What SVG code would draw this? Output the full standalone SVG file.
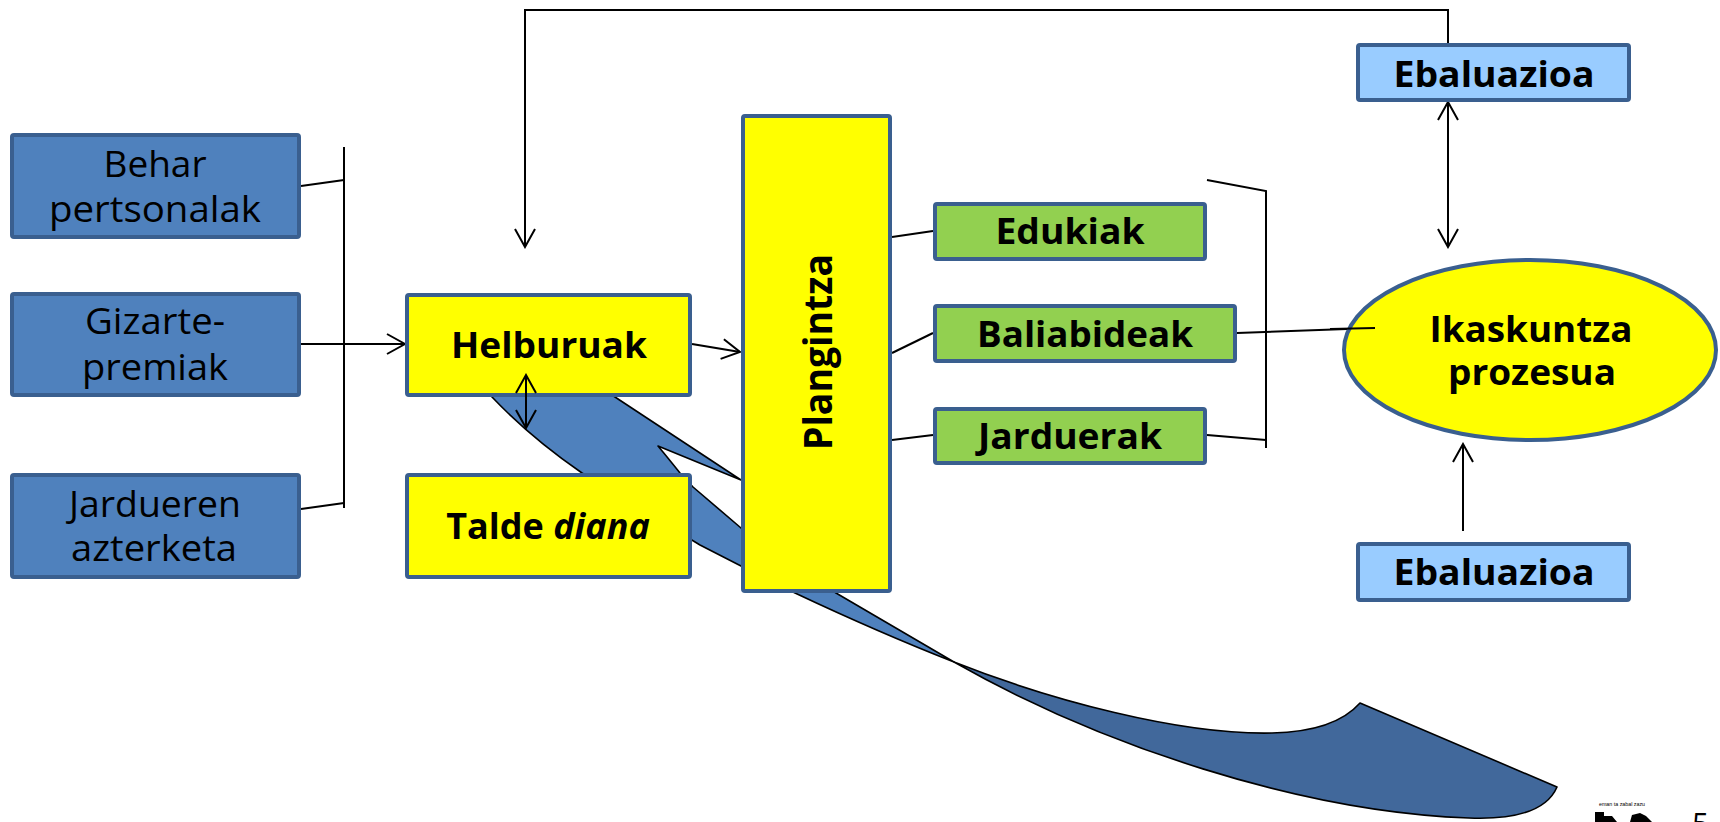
<svg xmlns="http://www.w3.org/2000/svg" width="1720" height="822" viewBox="0 0 1720 822">
  <style>
    .box { stroke: #3a5f8f; stroke-width: 4; }
    .blue { fill: #4f81bd; }
    .yel { fill: #ffff00; }
    .grn { fill: #92d050; }
    .lb { fill: #99ccff; }
    .t { font-family: "Open Sans", "Liberation Sans", sans-serif; font-size: 36px; fill: #000; text-anchor: middle; }
    .b { font-weight: bold; }
    .ln { stroke: #000; stroke-width: 2; fill: none; }
    .shape { stroke: #000; stroke-width: 1.6; stroke-linejoin: round; }
  </style>
  <defs>
    <marker id="arr" markerUnits="userSpaceOnUse" viewBox="-20 -12 22 24" markerWidth="22" markerHeight="24" refX="0" refY="0" orient="auto-start-reverse">
      <path d="M-18,-10 L0,0 L-18,10" fill="none" stroke="#000" stroke-width="2"/>
    </marker>
  </defs>
  <rect width="1720" height="822" fill="#ffffff"/>

  <!-- curved band arrow (behind boxes) -->
  <g id="curved-arrow">
    <path class="shape" fill="#4f81bd" d="M470,375 L492,397 Q530,437 582,473 L700,545 L741,566 L795,593 Q880,633 954,662 L836,593 L741,528 L693,487 L680,473 Q668,458 658,446 L741,480 L615,397 L600,387 Z"/>
    <path class="shape" fill="#41689b" d="M954,662 C1050,700 1180,735 1272,733 C1320,732 1345,720 1360,703 L1557,787 C1548,808 1520,820 1469,818 C1300,812 1100,745 954,662 Z"/>
  </g>

  <g id="connectors">
    <line class="ln" x1="301" y1="186" x2="344" y2="180"/>
    <line class="ln" x1="344" y1="147" x2="344" y2="508"/>
    <line class="ln" x1="301" y1="509" x2="344" y2="503"/>
    <line class="ln" x1="301" y1="344" x2="405" y2="344" marker-end="url(#arr)"/>
    <line class="ln" x1="692" y1="344" x2="740" y2="352" marker-end="url(#arr)"/>
    <polyline class="ln" points="1448,43 1448,10 525,10 525,247" marker-end="url(#arr)"/>
    <line class="ln" x1="1448" y1="102" x2="1448" y2="247" marker-start="url(#arr)" marker-end="url(#arr)"/>
    <line class="ln" x1="1463" y1="531" x2="1463" y2="444" marker-end="url(#arr)"/>
    <line class="ln" x1="892" y1="237" x2="933" y2="231"/>
    <line class="ln" x1="892" y1="353" x2="933" y2="333"/>
    <line class="ln" x1="892" y1="440" x2="933" y2="435"/>
    <line class="ln" x1="1237" y1="333" x2="1375" y2="328"/>
    <polyline class="ln" points="1207,180 1266,191 1266,448"/>
    <line class="ln" x1="1207" y1="435" x2="1266" y2="440"/>
  </g>

  <g id="behar">
    <rect class="box blue" x="12" y="135" width="287" height="102" rx="2"/>
    <text class="t" x="155" y="177" textLength="103" lengthAdjust="spacingAndGlyphs">Behar</text>
    <text class="t" x="155" y="222" textLength="212" lengthAdjust="spacingAndGlyphs">pertsonalak</text>
  </g>
  <g id="gizarte">
    <rect class="box blue" x="12" y="294" width="287" height="101" rx="2"/>
    <text class="t" x="155" y="334" textLength="140" lengthAdjust="spacingAndGlyphs">Gizarte-</text>
    <text class="t" x="155" y="380" textLength="146" lengthAdjust="spacingAndGlyphs">premiak</text>
  </g>
  <g id="jardueren">
    <rect class="box blue" x="12" y="475" width="287" height="102" rx="2"/>
    <text class="t" x="155" y="517" textLength="172" lengthAdjust="spacingAndGlyphs">Jardueren</text>
    <text class="t" x="154" y="561" textLength="166" lengthAdjust="spacingAndGlyphs">azterketa</text>
  </g>
  <g id="helburuak">
    <rect class="box yel" x="407" y="295" width="283" height="100" rx="2"/>
    <text class="t b" x="549" y="358" textLength="196" lengthAdjust="spacingAndGlyphs">Helburuak</text>
  </g>
  <g id="talde">
    <rect class="box yel" x="407" y="475" width="283" height="102" rx="2"/>
    <text class="t b" x="548" y="539">Talde <tspan font-style="italic">diana</tspan></text>
  </g>
  <g id="plangintza">
    <rect class="box yel" x="743" y="116" width="147" height="475" rx="2"/>
    <text class="t b" transform="translate(832,352) rotate(-90)" x="0" y="0" style="font-size:40px" textLength="196" lengthAdjust="spacingAndGlyphs">Plangintza</text>
  </g>
  <g id="edukiak">
    <rect class="box grn" x="935" y="204" width="270" height="55" rx="2"/>
    <text class="t b" x="1070" y="244" textLength="149" lengthAdjust="spacingAndGlyphs">Edukiak</text>
  </g>
  <g id="baliabideak">
    <rect class="box grn" x="935" y="306" width="300" height="55" rx="2"/>
    <text class="t b" x="1085" y="347" textLength="216" lengthAdjust="spacingAndGlyphs">Baliabideak</text>
  </g>
  <g id="jarduerak">
    <rect class="box grn" x="935" y="409" width="270" height="54" rx="2"/>
    <text class="t b" x="1070" y="449" textLength="184" lengthAdjust="spacingAndGlyphs">Jarduerak</text>
  </g>
  <g id="ebaluazioa-top">
    <rect class="box lb" x="1358" y="45" width="271" height="55" rx="2"/>
    <text class="t b" x="1494" y="87" textLength="201" lengthAdjust="spacingAndGlyphs">Ebaluazioa</text>
  </g>
  <g id="ebaluazioa-bottom">
    <rect class="box lb" x="1358" y="544" width="271" height="56" rx="2"/>
    <text class="t b" x="1494" y="585" textLength="201" lengthAdjust="spacingAndGlyphs">Ebaluazioa</text>
  </g>
  <g id="ikaskuntza">
    <ellipse class="box yel" cx="1530" cy="350" rx="186" ry="90"/>
    <text class="t b" x="1531" y="342" textLength="203" lengthAdjust="spacingAndGlyphs">Ikaskuntza</text>
    <text class="t b" x="1532" y="385" textLength="168" lengthAdjust="spacingAndGlyphs">prozesua</text>
  </g>

  <!-- Baliabideak line over ellipse edge -->
  <line class="ln" x1="1330" y1="329" x2="1375" y2="328"/>

  <!-- Helburuak / Talde double arrow -->
  <line class="ln" x1="526" y1="375" x2="526" y2="428" marker-start="url(#arr)" marker-end="url(#arr)"/>

  <g id="footer">
    <text x="1622" y="806" style="font-family:'Liberation Sans',sans-serif;font-size:4.5px;text-anchor:middle" textLength="46" lengthAdjust="spacingAndGlyphs">eman ta zabal zazu</text>
    <path d="M1595,822 L1595,812 L1604,812 L1604,816 L1612,816 L1617,822 Z" fill="#000"/>
    <path d="M1630,822 L1632,815 L1640,813 L1646,816 L1652,822 Z" fill="#000"/>
    <text x="1692" y="834" style="font-family:'Open Sans','Liberation Sans',sans-serif;font-size:30px">5</text>
  </g>
</svg>
